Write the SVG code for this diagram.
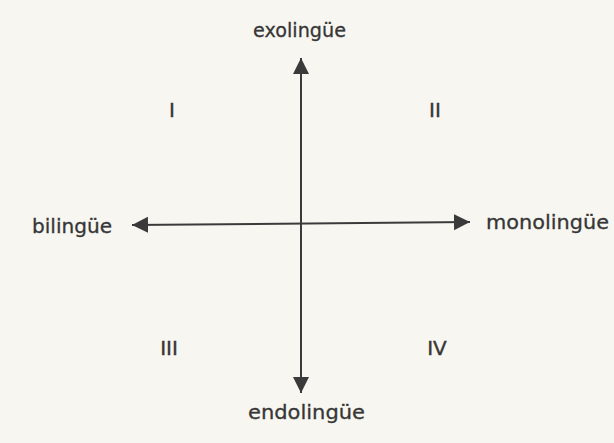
<svg xmlns="http://www.w3.org/2000/svg" width="614" height="443" viewBox="0 0 614 443">
  <defs>
    <marker id="arrow" markerUnits="userSpaceOnUse" markerWidth="18" markerHeight="18" refX="16" refY="8" orient="auto-start-reverse">
      <path d="M0,0 L16,8 L0,16 Z" fill="#3a3a3a"/>
    </marker>
    <style>
      .axis { stroke: #3a3a3a; stroke-width: 2; fill: none; }
      .label { font-family: "DejaVu Sans", "Liberation Sans", sans-serif; font-size: 20px; fill: #363636; stroke: #363636; stroke-width: 0.3; }
      .num { font-family: "DejaVu Sans", "Liberation Sans", sans-serif; font-size: 20px; fill: #363636; stroke: #363636; stroke-width: 0.4; text-anchor: middle; }
    </style>
  </defs>
  <rect x="0" y="0" width="614" height="443" fill="#f8f6f1"/>
  <g id="connectors">
    <line class="axis" x1="301" y1="58" x2="301" y2="393" marker-start="url(#arrow)" marker-end="url(#arrow)"/>
    <line class="axis" x1="132" y1="225" x2="470" y2="222" marker-start="url(#arrow)" marker-end="url(#arrow)"/>
  </g>
  <g id="exolingue"><text class="label" x="253" y="37" textLength="93" lengthAdjust="spacingAndGlyphs">exolingüe</text></g>
  <g id="endolingue"><text class="label" x="248" y="419" textLength="117" lengthAdjust="spacingAndGlyphs">endolingüe</text></g>
  <g id="bilingue"><text class="label" x="32" y="233" textLength="80" lengthAdjust="spacingAndGlyphs">bilingüe</text></g>
  <g id="monolingue"><text class="label" x="486" y="229" textLength="123" lengthAdjust="spacingAndGlyphs">monolingüe</text></g>
  <g id="q1"><text class="num" x="172" y="117">I</text></g>
  <g id="q2"><text class="num" x="435" y="117">II</text></g>
  <g id="q3"><text class="num" x="169" y="355">III</text></g>
  <g id="q4"><text class="num" x="437" y="355">IV</text></g>
</svg>
